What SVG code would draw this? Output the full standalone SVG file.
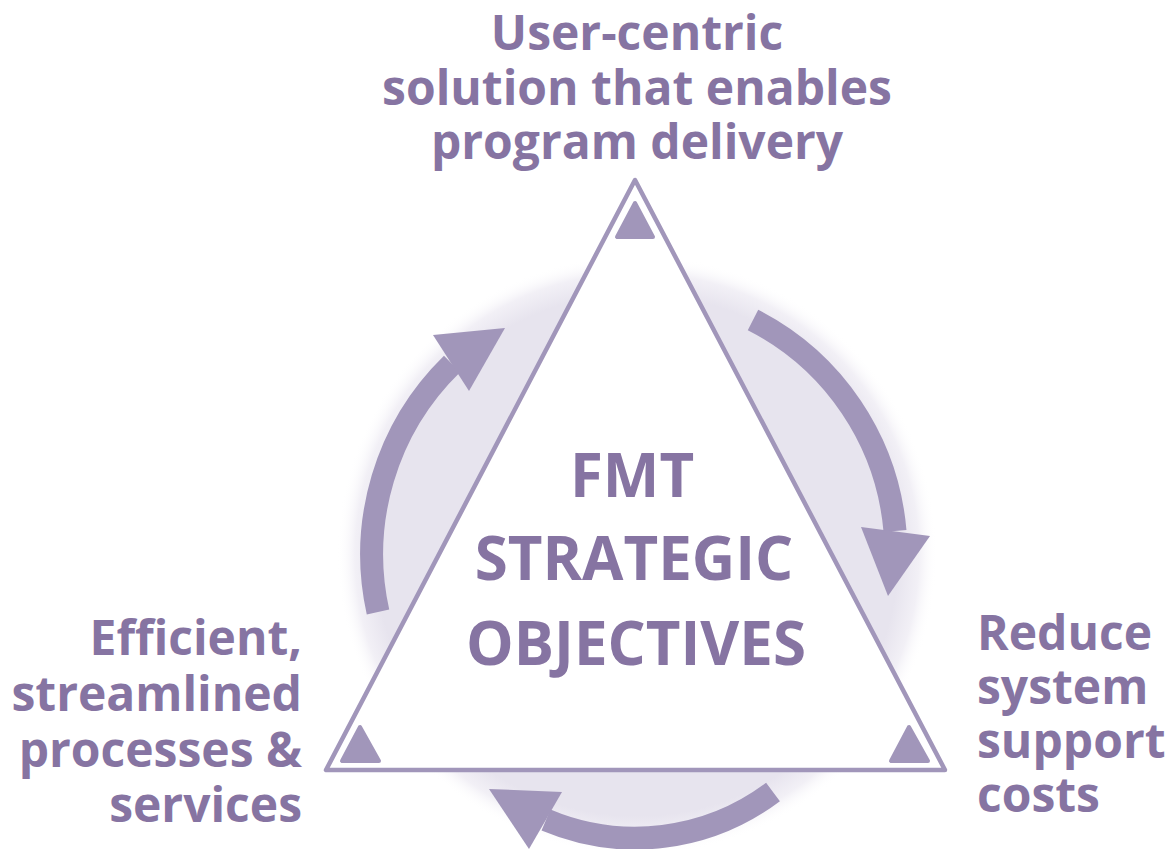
<svg xmlns="http://www.w3.org/2000/svg" width="1175" height="849" viewBox="0 0 1175 849">
  <defs>
    <radialGradient id="glow" cx="637" cy="555" r="300" gradientUnits="userSpaceOnUse">
      <stop offset="0" stop-color="#e7e4ee"/>
      <stop offset="0.87" stop-color="#e7e4ee"/>
      <stop offset="0.94" stop-color="#f2f0f6"/>
      <stop offset="1" stop-color="#ffffff" stop-opacity="0"/>
    </radialGradient>
    <style>
      .lbl { font-family: "Open Sans", "Liberation Sans", sans-serif; font-weight: bold; fill: #8674a2; }
      .arc { fill: none; stroke: #a196ba; stroke-width: 23; stroke-linecap: butt; }
      .head { fill: #a196ba; }
      .mark { fill: #a196ba; stroke: #a196ba; stroke-width: 4; stroke-linejoin: round; }
    </style>
  </defs>
  <rect width="1175" height="849" fill="#ffffff"/>
  <circle cx="637" cy="555" r="300" fill="url(#glow)"/>

  <g id="triangle">
    <polygon points="635,180 326,770 945,770" fill="#ffffff" stroke="#a196ba" stroke-width="4.5" stroke-linejoin="round"/>
    <polygon class="mark" points="635,203 617,237 653,237"/>
    <polygon class="mark" points="360,727 342,761 379,761"/>
    <polygon class="mark" points="909,727 891,761 928,761"/>
  </g>

  <g id="connectors">
    <g id="arrow-right">
      <path class="arc" d="M 753 320 A 262 262 0 0 1 895 531"/>
      <polygon class="head" points="861,527 930,536 888,596"/>
    </g>
    <g id="arrow-bottom">
      <path class="arc" d="M 773 792 A 229 229 0 0 1 546 820"/>
      <polygon class="head" points="562,792 529,849 489,789"/>
    </g>
    <g id="arrow-left">
      <path class="arc" d="M 378 612 A 266 266 0 0 1 452 364"/>
      <polygon class="head" points="433,335 469,391 505,328"/>
    </g>
  </g>

  <g id="node-top">
    <text class="lbl" font-size="48" text-anchor="middle" x="637" y="50">User-centric</text>
    <text class="lbl" font-size="48" text-anchor="middle" x="637" y="105">solution that enables</text>
    <text class="lbl" font-size="48" text-anchor="middle" x="637" y="159">program delivery</text>
  </g>

  <g id="node-center">
    <text class="lbl" font-size="60" text-anchor="middle" x="632" y="497">FMT</text>
    <text class="lbl" font-size="60" text-anchor="middle" x="634" y="580">STRATEGIC</text>
    <text class="lbl" font-size="60" text-anchor="middle" x="636" y="665">OBJECTIVES</text>
  </g>

  <g id="node-left">
    <text class="lbl" font-size="48" text-anchor="end" x="302" y="655">Efficient,</text>
    <text class="lbl" font-size="48" text-anchor="end" x="302" y="711">streamlined</text>
    <text class="lbl" font-size="48" text-anchor="end" x="302" y="767">processes &amp;</text>
    <text class="lbl" font-size="48" text-anchor="end" x="302" y="822">services</text>
  </g>

  <g id="node-right">
    <text class="lbl" font-size="48" x="977" y="650">Reduce</text>
    <text class="lbl" font-size="48" x="977" y="704">system</text>
    <text class="lbl" font-size="48" x="977" y="758">support</text>
    <text class="lbl" font-size="48" x="977" y="812">costs</text>
  </g>
</svg>
